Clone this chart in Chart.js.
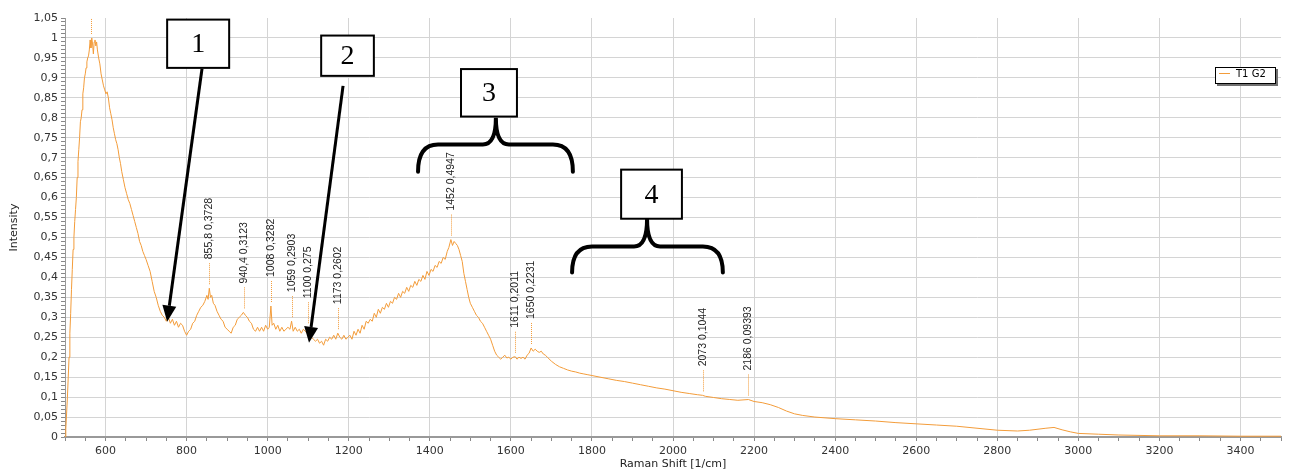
<!DOCTYPE html>
<html>
<head>
<meta charset="utf-8">
<script src="https://cdn.jsdelivr.net/npm/chart.js@4.4.1/dist/chart.umd.min.js"></script>
<style>
  html, body { margin: 0; padding: 0; background: #fff; }
</style>
</head>
<body>
<canvas id="spectrum" width="1289" height="471"></canvas>
<script>
// spectrum
const ramanShift = [
  500, 502, 504, 506, 508, 510, 512, 514, 516, 518,
  520, 522, 524, 526, 528, 530, 532, 534, 536, 538,
  540, 542, 544, 546, 548, 550, 552, 554, 556, 558,
  560, 562, 564, 566, 568, 570, 572, 574, 576, 578,
  580, 583, 586, 589, 592, 595, 598, 601, 604, 607,
  610, 613, 616, 619, 622, 625, 628, 631, 634, 637,
  640, 644, 648, 652, 656, 660, 664, 668, 672, 676,
  680, 684, 688, 692, 696, 700, 705, 710, 715, 720,
  725, 730, 735, 740, 745, 750, 755, 760, 765, 770,
  775, 780, 785, 790, 795, 800, 805, 810, 815, 820,
  825, 830, 835, 840, 845, 850, 853, 856, 859, 862,
  866, 870, 875, 880, 885, 890, 895, 900, 905, 910,
  915, 920, 925, 930, 935, 940, 945, 950, 955, 960,
  965, 970, 975, 980, 985, 990, 995, 1000, 1004, 1008,
  1011, 1015, 1020, 1025, 1030, 1035, 1040, 1045, 1050, 1055,
  1059, 1063, 1068, 1073, 1078, 1083, 1088, 1093, 1097, 1100,
  1104, 1108, 1113, 1118, 1123, 1128, 1133, 1138, 1143, 1148,
  1153, 1158, 1163, 1168, 1173, 1178, 1183, 1188, 1193, 1198,
  1203, 1208, 1213, 1218, 1223, 1228, 1233, 1238, 1243, 1248,
  1253, 1258, 1263, 1268, 1273, 1278, 1283, 1288, 1293, 1298,
  1303, 1308, 1313, 1318, 1323, 1328, 1333, 1338, 1343, 1348,
  1353, 1358, 1363, 1368, 1373, 1378, 1383, 1388, 1393, 1398,
  1403, 1408, 1413, 1418, 1423, 1428, 1433, 1438, 1443, 1447,
  1452, 1456, 1460, 1464, 1468, 1472, 1476, 1480, 1484, 1488,
  1492, 1496, 1500, 1505, 1510, 1515, 1520, 1525, 1530, 1535,
  1540, 1545, 1550, 1555, 1560, 1565, 1570, 1575, 1580, 1585,
  1590, 1595, 1600, 1605, 1611, 1615, 1620, 1625, 1630, 1635,
  1640, 1645, 1650, 1655, 1660, 1665, 1670, 1675, 1680, 1685,
  1690, 1700, 1710, 1720, 1730, 1740, 1750, 1760, 1770, 1780,
  1790, 1800, 1820, 1840, 1860, 1880, 1900, 1920, 1940, 1960,
  1980, 2000, 2020, 2040, 2060, 2073, 2080, 2100, 2120, 2140,
  2160, 2186, 2200, 2220, 2240, 2260, 2280, 2300, 2320, 2350,
  2400, 2450, 2500, 2550, 2600, 2650, 2700, 2750, 2800, 2850,
  2880, 2920, 2940, 2960, 2980, 3000, 3050, 3100, 3200, 3300,
  3400, 3500
];
const intensity = [
  0, 0.02, 0.06, 0.1, 0.15, 0.2, 0.26, 0.31, 0.37, 0.42,
  0.47, 0.5, 0.54, 0.57, 0.6, 0.65, 0.69, 0.72, 0.75, 0.79,
  0.8, 0.82, 0.86, 0.875, 0.9, 0.91, 0.925, 0.94, 0.95, 0.955,
  0.97, 0.995, 0.975, 1, 0.985, 0.96, 0.99, 0.995, 0.98, 0.99,
  0.97, 0.95, 0.935, 0.91, 0.895, 0.88, 0.87, 0.86, 0.865, 0.85,
  0.825, 0.81, 0.795, 0.775, 0.76, 0.745, 0.735, 0.72, 0.7, 0.685,
  0.665, 0.645, 0.625, 0.61, 0.595, 0.585, 0.57, 0.555, 0.54, 0.525,
  0.51, 0.49, 0.48, 0.465, 0.455, 0.445, 0.43, 0.415, 0.39, 0.365,
  0.35, 0.33, 0.315, 0.305, 0.3, 0.29, 0.3, 0.285, 0.295, 0.28,
  0.29, 0.275, 0.285, 0.28, 0.265, 0.255, 0.265, 0.27, 0.285, 0.29,
  0.305, 0.315, 0.325, 0.33, 0.34, 0.355, 0.345, 0.3728, 0.35, 0.355,
  0.335, 0.33, 0.315, 0.305, 0.295, 0.29, 0.275, 0.27, 0.265, 0.26,
  0.275, 0.28, 0.295, 0.3, 0.305, 0.3123, 0.305, 0.3, 0.29, 0.285,
  0.27, 0.265, 0.275, 0.265, 0.275, 0.265, 0.28, 0.27, 0.275, 0.3282,
  0.28, 0.285, 0.27, 0.28, 0.265, 0.275, 0.265, 0.27, 0.275, 0.27,
  0.2903, 0.265, 0.275, 0.265, 0.27, 0.26, 0.27, 0.265, 0.26, 0.275,
  0.255, 0.25, 0.245, 0.24, 0.245, 0.235, 0.24, 0.23, 0.245, 0.24,
  0.25, 0.245, 0.255, 0.245, 0.2602, 0.25, 0.245, 0.255, 0.245, 0.25,
  0.255, 0.245, 0.265, 0.255, 0.27, 0.26, 0.28, 0.27, 0.29, 0.285,
  0.295, 0.29, 0.31, 0.3, 0.32, 0.31, 0.325, 0.32, 0.335, 0.325,
  0.34, 0.335, 0.35, 0.345, 0.36, 0.35, 0.365, 0.36, 0.375, 0.365,
  0.38, 0.375, 0.39, 0.38, 0.395, 0.39, 0.405, 0.395, 0.415, 0.405,
  0.42, 0.415, 0.43, 0.425, 0.44, 0.435, 0.45, 0.445, 0.465, 0.475,
  0.4947, 0.48, 0.49, 0.485, 0.48, 0.47, 0.455, 0.44, 0.41, 0.39,
  0.37, 0.35, 0.335, 0.325, 0.315, 0.305, 0.3, 0.29, 0.285, 0.275,
  0.265, 0.255, 0.245, 0.23, 0.215, 0.205, 0.2, 0.195, 0.2, 0.205,
  0.198, 0.2, 0.195, 0.2, 0.2011, 0.195, 0.2, 0.197, 0.2, 0.195,
  0.205, 0.21, 0.2231, 0.215, 0.22, 0.215, 0.212, 0.215, 0.208, 0.205,
  0.2, 0.19, 0.182, 0.176, 0.172, 0.168, 0.165, 0.163, 0.16, 0.158,
  0.156, 0.154, 0.15, 0.146, 0.142, 0.139, 0.135, 0.131, 0.127, 0.123,
  0.12, 0.116, 0.112, 0.109, 0.106, 0.1044, 0.102, 0.099, 0.096, 0.094,
  0.092, 0.09393, 0.089, 0.086, 0.081, 0.074, 0.065, 0.058, 0.054, 0.05,
  0.046, 0.043, 0.04, 0.036, 0.033, 0.03, 0.027, 0.022, 0.017, 0.015,
  0.017, 0.022, 0.024, 0.018, 0.013, 0.009, 0.007, 0.005, 0.003, 0.003,
  0.002, 0.002
];

// labelled peaks
const peakShift = [564, 855.8, 940.4, 1008, 1059, 1100, 1173, 1452, 1611, 1650, 2073, 2186];
const peakIntensity = [1, 0.3728, 0.3123, 0.3282, 0.2903, 0.275, 0.2602, 0.4947, 0.2011, 0.2231, 0.1044, 0.09393];

const seriesName = 'T1 G2';
const lineColor = '#f39c3a';
const gridColor = '#d4d4d4';

// numbered call-outs, placed in data units
const boxes = [
  { text: '1', x0: 752, x1: 905, y0: 1.046, y1: 0.925, from: [838, 0.923], to: [752, 0.289] },
  { text: '2', x0: 1132, x1: 1262, y0: 1.006, y1: 0.905, from: [1186, 0.880], to: [1102, 0.236] },
  { text: '3', x0: 1477, x1: 1615, y0: 0.922, y1: 0.803 },
  { text: '4', x0: 1872, x1: 2022, y0: 0.670, y1: 0.547 }
];
const braces = [
  { left: 1371, right: 1753, mid: 1563, bottom: 0.665, top: 0.733, cusp: 0.800 },
  { left: 1751, right: 2123, mid: 1936, bottom: 0.412, top: 0.4775, cusp: 0.547 }
];

const comma = v => String(v).replace('.', ',');

const overlay = {
  id: 'overlay',
  afterDatasetsDraw(chart) {
    const {ctx, chartArea: a, scales: {x, y}} = chart;
    ctx.save();
    ctx.beginPath();
    ctx.rect(a.left, a.top, a.right - a.left, a.bottom - a.top);
    ctx.clip();
    ctx.font = '10.5px "Liberation Sans", Arial, sans-serif';
    ctx.fillStyle = '#222';
    peakShift.forEach((s, i) => {
      const px = Math.round(x.getPixelForValue(s)) + 0.5;
      const py = y.getPixelForValue(peakIntensity[i]);
      ctx.strokeStyle = lineColor;
      ctx.lineWidth = 1;
      ctx.setLineDash([1, 1]);
      ctx.beginPath();
      ctx.moveTo(px, py - 4);
      ctx.lineTo(px, py - 26);
      ctx.stroke();
      ctx.save();
      ctx.translate(px, py - 29);
      ctx.rotate(-Math.PI / 2);
      ctx.textAlign = 'left';
      ctx.textBaseline = 'middle';
      ctx.fillText(comma(s) + ' ' + comma(peakIntensity[i]), 0, 0);
      ctx.restore();
    });
    ctx.restore();
  },
  afterDraw(chart) {
    const {ctx, chartArea: a, scales: {x, y}} = chart;
    ctx.save();

    // legend box
    const lx = a.right - 66, ly = a.top + 49, lw = 61, lh = 17;
    ctx.fillStyle = '#707070';
    ctx.fillRect(lx + 2, ly + 2, lw, lh);
    ctx.fillStyle = '#fff';
    ctx.fillRect(lx, ly, lw, lh);
    ctx.strokeStyle = '#000';
    ctx.lineWidth = 1;
    ctx.strokeRect(lx + 0.5, ly + 0.5, lw - 1, lh - 1);
    ctx.strokeStyle = lineColor;
    ctx.beginPath();
    ctx.moveTo(lx + 4, ly + 6.5);
    ctx.lineTo(lx + 15, ly + 6.5);
    ctx.stroke();
    ctx.fillStyle = '#000';
    ctx.font = '10px "DejaVu Sans", sans-serif';
    ctx.textBaseline = 'middle';
    ctx.fillText(seriesName, lx + 21, ly + 7.5);

    // call-out boxes and arrows
    boxes.forEach(b => {
      const bx0 = x.getPixelForValue(b.x0), bx1 = x.getPixelForValue(b.x1);
      const by0 = y.getPixelForValue(b.y0), by1 = y.getPixelForValue(b.y1);
      ctx.fillStyle = '#fff';
      ctx.fillRect(bx0, by0, bx1 - bx0, by1 - by0);
      ctx.strokeStyle = '#000';
      ctx.lineWidth = 2;
      ctx.strokeRect(bx0, by0, bx1 - bx0, by1 - by0);
      ctx.fillStyle = '#000';
      ctx.font = '28px "Liberation Serif", "Times New Roman", serif';
      ctx.textAlign = 'center';
      ctx.textBaseline = 'middle';
      ctx.fillText(b.text, (bx0 + bx1) / 2, (by0 + by1) / 2 + 1);
      if (b.from) {
        const fx = x.getPixelForValue(b.from[0]), fy = y.getPixelForValue(b.from[1]);
        const tx = x.getPixelForValue(b.to[0]), ty = y.getPixelForValue(b.to[1]);
        const ang = Math.atan2(ty - fy, tx - fx);
        const head = 16, half = 7;
        const baseX = tx - head * Math.cos(ang), baseY = ty - head * Math.sin(ang);
        ctx.lineWidth = 3;
        ctx.beginPath();
        ctx.moveTo(fx, fy);
        ctx.lineTo(baseX, baseY);
        ctx.stroke();
        ctx.beginPath();
        ctx.moveTo(tx, ty);
        ctx.lineTo(baseX + half * Math.sin(ang), baseY - half * Math.cos(ang));
        ctx.lineTo(baseX - half * Math.sin(ang), baseY + half * Math.cos(ang));
        ctx.closePath();
        ctx.fill();
      }
    });

    // curly braces
    ctx.lineWidth = 4;
    ctx.lineCap = 'round';
    ctx.strokeStyle = '#000';
    braces.forEach(br => {
      const xl = x.getPixelForValue(br.left), xr = x.getPixelForValue(br.right);
      const xm = x.getPixelForValue(br.mid);
      const yb = y.getPixelForValue(br.bottom), yt = y.getPixelForValue(br.top);
      const yc = y.getPixelForValue(br.cusp);
      const r1 = 20, r2 = 13;
      ctx.beginPath();
      ctx.moveTo(xl, yb);
      ctx.quadraticCurveTo(xl, yt, xl + r1, yt);
      ctx.lineTo(xm - r2, yt);
      ctx.quadraticCurveTo(xm, yt, xm, yc);
      ctx.quadraticCurveTo(xm, yt, xm + r2, yt);
      ctx.lineTo(xr - r1, yt);
      ctx.quadraticCurveTo(xr, yt, xr, yb);
      ctx.stroke();
    });
    ctx.restore();
  }
};

const tickFont = { family: '"DejaVu Sans", sans-serif', size: 11 };
const titleFont = { family: '"DejaVu Sans", sans-serif', size: 11 };

new Chart(document.getElementById('spectrum'), {
  type: 'line',
  data: {
    datasets: [{
      label: seriesName,
      data: ramanShift.map((s, i) => ({ x: s, y: intensity[i] })),
      borderColor: lineColor,
      borderWidth: 1,
      pointRadius: 0,
      tension: 0,
      fill: false
    }]
  },
  options: {
    responsive: false,
    animation: false,
    layout: { padding: { top: 18, right: 8, left: 0, bottom: 0 } },
    plugins: {
      legend: { display: false },
      tooltip: { enabled: false }
    },
    scales: {
      x: {
        type: 'linear',
        min: 500,
        max: 3500,
        afterFit: s => { s.height = 34; },
        ticks: {
          stepSize: 50,
          autoSkip: false,
          maxRotation: 0,
          padding: 4,
          color: '#333',
          font: tickFont,
          callback: v => (v % 200 === 0 ? String(v) : '')
        },
        grid: {
          color: c => (c.tick && c.tick.value % 200 === 0 && c.tick.value < 3500 ? gridColor : 'rgba(0,0,0,0)'),
          tickColor: '#888',
          tickLength: 4
        },
        border: { color: '#999', width: 2 },
        title: {
          display: true,
          text: 'Raman Shift [1/cm]',
          color: '#222',
          font: titleFont,
          padding: { top: 0, bottom: 0 }
        }
      },
      y: {
        min: 0,
        max: 1.05,
        afterFit: s => { s.width = 65; },
        ticks: {
          stepSize: 0.01,
          autoSkip: false,
          color: '#333',
          font: tickFont,
          callback: v => {
            const k = Math.round(v * 100);
            return k % 5 === 0 ? comma(k / 100) : '';
          }
        },
        grid: {
          color: c => {
            if (!c.tick) return 'rgba(0,0,0,0)';
            const k = Math.round(c.tick.value * 100);
            return k % 5 === 0 && k > 0 && k < 105 ? gridColor : 'rgba(0,0,0,0)';
          },
          tickColor: '#888',
          tickLength: 4
        },
        border: { color: '#999', width: 1 },
        title: {
          display: true,
          text: 'Intensity',
          color: '#222',
          font: titleFont,
          padding: { top: 8, bottom: 0 }
        }
      }
    }
  },
  plugins: [overlay]
});
</script>
</body>
</html>
